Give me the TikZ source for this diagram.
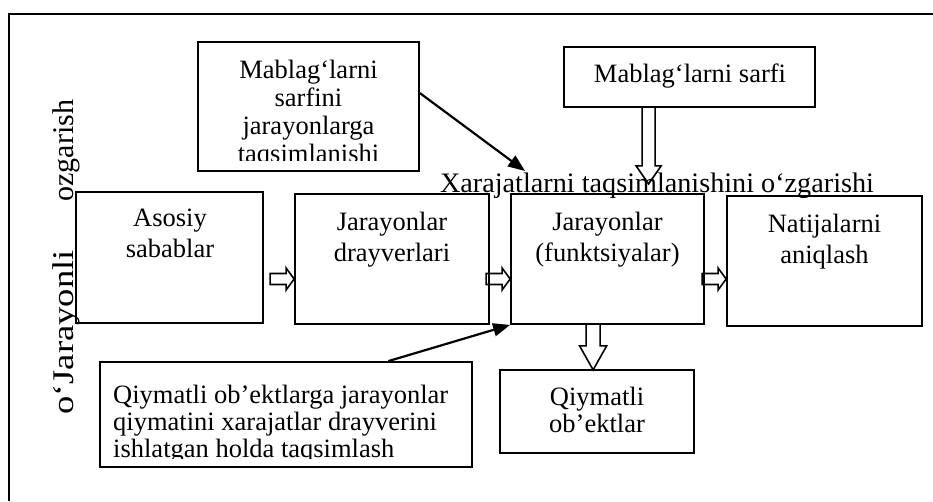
\documentclass[tikz,border=0pt]{standalone}
\usepackage{fontspec}
\usepackage{graphicx}
\setmainfont{Liberation Serif}
\usetikzlibrary{calc,arrows.meta}
\begin{document}
\begin{tikzpicture}[x=1pt,y=-1pt,
  box/.style={draw,line width=1.8pt,inner sep=0pt},
  txt/.style={inner sep=0pt,align=center,font=\fontsize{26.5}{31}\selectfont},
  txts/.style={inner sep=0pt,align=center,font=\fontsize{26.5}{28}\selectfont},
  blk/.style={draw,line width=1.6pt,line join=miter},
  thinarr/.style={draw,line width=2.2pt,-{Triangle[length=17pt,width=13pt]}},
  rarr/.pic={\draw[blk] (-24,-5.5) -- (-8,-5.5) -- (-8,-11) -- (0,0) -- (-8,11) -- (-8,5.5) -- (-24,5.5) -- cycle;}
]
\useasboundingbox (0,0) rectangle (933,501);
% frame
\draw[line width=2.5pt] (933,14) -- (9,14) -- (9,501);

% boxes
\node[box,minimum width=221pt,minimum height=129pt] (m1) at (308.5,106.5) {};
\node[box,minimum width=251pt,minimum height=60pt] (m2) at (689.5,77) {};
\node[box,minimum width=187pt,minimum height=131pt] (A) at (169.5,257.5) {};
\node[box,minimum width=194pt,minimum height=130pt] (D) at (392,259) {};
\node[box,minimum width=193pt,minimum height=130pt] (F) at (607.5,259) {};
\node[box,minimum width=195pt,minimum height=130pt] (N) at (824.5,261) {};
\node[box,minimum width=372pt,minimum height=105pt] (QB) at (286,414.5) {};
\node[box,minimum width=194pt,minimum height=83pt] (QO) at (597,411.5) {};

% texts
\begin{scope}
\clip (199,43) rectangle (418,160.5);
\node[txts,anchor=north] (m1t) at (308.5,60) {Mablag‘larni\\sarfini\\jarayonlarga\\taqsimlanishi};
\end{scope}
\node[txt,anchor=base] (m2t) at (690,82) {Mablag‘larni sarfi};
\node[txt,anchor=north] (At) at (170,209) {Asosiy\\sabablar};
\node[txt,anchor=north] (Dt) at (392,212) {Jarayonlar\\drayverlari};
\node[txt,anchor=north] (Ft) at (607.5,212) {Jarayonlar\\(funktsiyalar)};
\node[txt,anchor=north] (Nt) at (824.5,214) {Natijalarni\\aniqlash};
\begin{scope}
\clip (101,363) rectangle (471,458.5);
\node[inner sep=0pt,align=left,font=\fontsize{26.5}{27}\selectfont,anchor=north west] (QBt) at (113,385) {Qiymatli ob’ektlarga jarayonlar\\qiymatini xarajatlar drayverini\\ishlatgan holda taqsimlash};
\end{scope}
\node[txts,anchor=north,font=\fontsize{26.5}{27}\selectfont] (QOt) at (597,387) {Qiymatli\\ob’ektlar};

% heading and vertical text
\node[inner sep=0pt,anchor=base,font=\fontsize{28.2}{30}\selectfont] (hd) at (657,192) {Xarajatlarni taqsimlanishini o‘zgarishi};
\node[inner sep=0pt,rotate=90,anchor=base west,font=\fontsize{30}{32}\selectfont] (vt) at (73,415) {\makebox[315pt][s]{\scalebox{1.22}[1]{o‘Jarayonli}\hfill ozgarish}};

% block arrows
\coordinate (ay) at (0,279);
\pic at (D.west |- ay) {rarr};
\pic at (F.west |- ay) {rarr};
\pic at (N.west |- ay) {rarr};
\draw[blk] ([xshift=85.5pt]m2.south west) ++(-6.5,0) -- ++(0,58) -- ++(-6,0) -- ++(12.5,18) -- ++(12.5,-18) -- ++(-6,0) -- ++(0,-58);
\draw[blk] ([xshift=83pt]F.south west) ++(-7,0) -- ++(0,21) -- ++(-6.5,0) -- ++(13.5,24) -- ++(13.5,-24) -- ++(-6.5,0) -- ++(0,-21);

% thin arrows
\coordinate (tip1) at (525,171);
\draw[thinarr] ($(m1.north east)+(0,52)$) -- (tip1);
\draw[thinarr] ($(QB.north west)!0.774!(QB.north east)$) -- (F.south west);
\end{tikzpicture}
\end{document}
